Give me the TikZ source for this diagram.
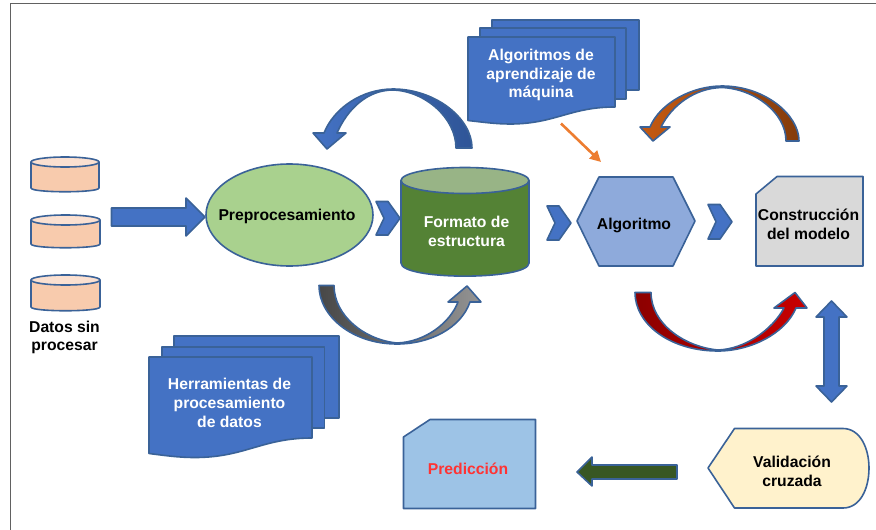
\documentclass[tikz,border=0pt]{standalone}
\usepackage{fontspec}
\setmainfont{Liberation Sans}
\usetikzlibrary{arrows.meta,shapes.geometric}
\definecolor{edge}{HTML}{3A6298}
\definecolor{bluef}{HTML}{4472C4}
\definecolor{cylf}{HTML}{F8CBAD}
\definecolor{cyltop}{HTML}{FBE0D0}
\tikzset{
  shapeline/.style={draw=edge,line width=1.6pt,line join=round},
  blockarrow/.style={shapeline,fill=bluef},
  label/.style={font=\bfseries\fontsize{15.7}{18.8}\selectfont,align=center,text=black,inner sep=0pt},
  whitelabel/.style={label,text=white},
  paper/.style={shapeline,fill=bluef},
  frameline/.style={draw=black!62,line width=1.1pt}
}
\newcommand{\chev}[3]{% left x, top y, bottom y
  \path[blockarrow] (#1,#2) -- ++(12,0) -- (#1+24,{(#2+#3)/2}) -- (#1+12,#3) -- (#1,#3) -- (#1+8,{(#2+#3)/2}) -- cycle;}
\newcommand{\datacyl}[4]{% left x, right x, top y, bottom y
  \path[shapeline,fill=cylf] (#1,#3+5) -- (#1,#4-4) .. controls (#1,#4+1) and (#2,#4+1) .. (#2,#4-4) -- (#2,#3+5) -- cycle;
  \path[shapeline,fill=cyltop] ({(#1+#2)/2},#3+5) ellipse [x radius={(#2-#1)/2},y radius=5];}
\begin{document}
\begin{tikzpicture}[x=1pt,y=-1pt]
\useasboundingbox (0,0) rectangle (876,530);
% frame
\draw[frameline] (10.5,530) -- (10.5,3.5) -- (876,3.5);

% raw data
\datacyl{31}{99}{157}{192}
\datacyl{31}{100}{215}{248}
\datacyl{31}{100}{275}{311}
\node[label] (datos) at (64.5,337.5) {Datos sin\\procesar};

% input arrow
\path[blockarrow] (111.5,208) -- (186,208) -- (186,198) -- (205,217) -- (186,236) -- (186,226) -- (111.5,226) -- cycle;

% preprocessing
\node[ellipse,shapeline,fill={rgb,255:red,169;green,209;blue,142},minimum width=167pt,minimum height=102pt,inner sep=0pt] (prep) at (289.5,215) {};
\node[label] (preplabel) at (287,216.5) {Preprocesamiento};
\chev{376}{201.5}{235}

% structure format cylinder
\path[shapeline,fill={rgb,255:red,84;green,130;blue,53}] (401,180.5) -- (401,263) .. controls (401,280.5) and (529,280.5) .. (529,263) -- (529,180.5) -- cycle;
\path[shapeline,fill={rgb,255:red,152;green,180;blue,134}] (465,180.5) ellipse [x radius=64,y radius=13];
\node[whitelabel] (formato) at (466.5,231) {Formato de\\estructura};

\chev{547}{206}{240}
% algorithm
\path[shapeline,fill={rgb,255:red,142;green,170;blue,219}] (577,221) -- (599,177) -- (673,177) -- (695,221) -- (673,266) -- (599,266) -- cycle;
\node[label] (algoritmo) at (634,225) {Algoritmo};
\chev{708}{204.5}{239}

% model
\path[shapeline,fill={rgb,255:red,217;green,217;blue,217}] (756,194) -- (777,176.5) -- (863,176.5) -- (863,266) -- (756,266) -- cycle;
\node[label] (modelo) at (808.5,224) {Construcción\\del modelo};

% double arrow
\path[blockarrow] (831.5,301) -- (847,317) -- (839,317) -- (839,386) -- (847,386) -- (831.5,402) -- (816,386) -- (824,386) -- (824,317) -- (816,317) -- cycle;

% validation
\path[shapeline,fill={rgb,255:red,255;green,242;blue,204}] (708,468) -- (734.5,428.5) -- (843,428.5) .. controls (860,428.5) and (869,448) .. (869,468) .. controls (869,489) and (860,508) .. (843,508) -- (734.5,508) -- cycle;
\node[label] (validacion) at (792,471.5) {Validación\\cruzada};

% green arrow
\path[shapeline,fill={rgb,255:red,56;green,87;blue,35}] (677,465) -- (592,465) -- (592,457) -- (577,472) -- (592,486) -- (592,479) -- (677,479) -- cycle;

% prediction
\path[shapeline,fill={rgb,255:red,157;green,195;blue,230}] (403.5,437) -- (430,419.5) -- (535.5,419.5) -- (535.5,508.5) -- (403.5,508.5) -- cycle;
\node[label,text={rgb,255:red,255;green,51;blue,51}] (prediccion) at (468,468.5) {Predicción};

% top stack
\path[paper] (492,20) rectangle (639,90);
\path[paper] (480,28) rectangle (626,99);
\path[paper] (468,37) -- (615,37) -- (615,107) .. controls (570,107) and (555,124) .. (510,124) .. controls (495,124) and (482,122) .. (468,120.5) -- cycle;
\node[whitelabel] (algos) at (541,75) {Algoritmos de\\aprendizaje de\\máquina};

% bottom stack
\path[paper] (174,336) rectangle (339,418);
\path[paper] (162,347) rectangle (324.5,428);
\path[paper] (149,357) -- (312,357) -- (312,438) .. controls (262,438) and (245,457.5) .. (195,457.5) .. controls (178,457.5) and (165,455.5) .. (149,453.5) -- cycle;
\node[whitelabel] (herr) at (229.5,403) {Herramientas de\\procesamiento\\de datos};

% orange connector
\coordinate (oa) at (561,123.5);
\coordinate (ob) at (601,162);
\draw[draw={rgb,255:red,237;green,125;blue,49},line width=2.6pt,-{Triangle[length=11pt,width=11pt]}] (oa) -- (ob);

% curved arrows
\path[shapeline,left color=bluef,right color={rgb,255:red,47;green,85;blue,151}]
  (472,148) .. controls (472,118) and (435,89) .. (393,89)
  .. controls (362,89) and (334,108) .. (324,133) -- (313,133) -- (327,149) -- (346,133) -- (337,133)
  .. controls (348,108) and (368,90) .. (393,90) .. controls (425,91) and (456,118) .. (456,148) -- cycle;

\path[shapeline,left color={rgb,255:red,197;green,90;blue,17},right color={rgb,255:red,132;green,60;blue,12}]
  (799,141) .. controls (799,115) and (765,86) .. (722,86)
  .. controls (692,86) and (660,103) .. (650,127) -- (640,127) -- (653,141) -- (670,127) -- (661,127)
  .. controls (672,105) and (695,88) .. (722,87.5) .. controls (755,89) and (786,113) .. (786,141) -- cycle;

\path[shapeline,left color=black!72,right color=black!42]
  (319,285.5) .. controls (319,316) and (352,344) .. (397,344)
  .. controls (430,344) and (461,328) .. (470,302) -- (481,302) -- (467,286) -- (448,302) -- (458,302)
  .. controls (450,323) and (425,342) .. (397,343) .. controls (365,340) and (334,316) .. (334,285.5) -- cycle;

\path[shapeline,left color={rgb,255:red,140;green,0;blue,0},right color={rgb,255:red,200;green,0;blue,0}]
  (635,292.5) .. controls (635,324) and (670,351) .. (718,351)
  .. controls (750,351) and (785,334) .. (796,308) -- (807,308) -- (795,292.5) -- (774,308) -- (784,308)
  .. controls (772,330) and (745,349) .. (718,350) .. controls (685,347) and (651,324) .. (651,292.5) -- cycle;
\end{tikzpicture}
\end{document}
